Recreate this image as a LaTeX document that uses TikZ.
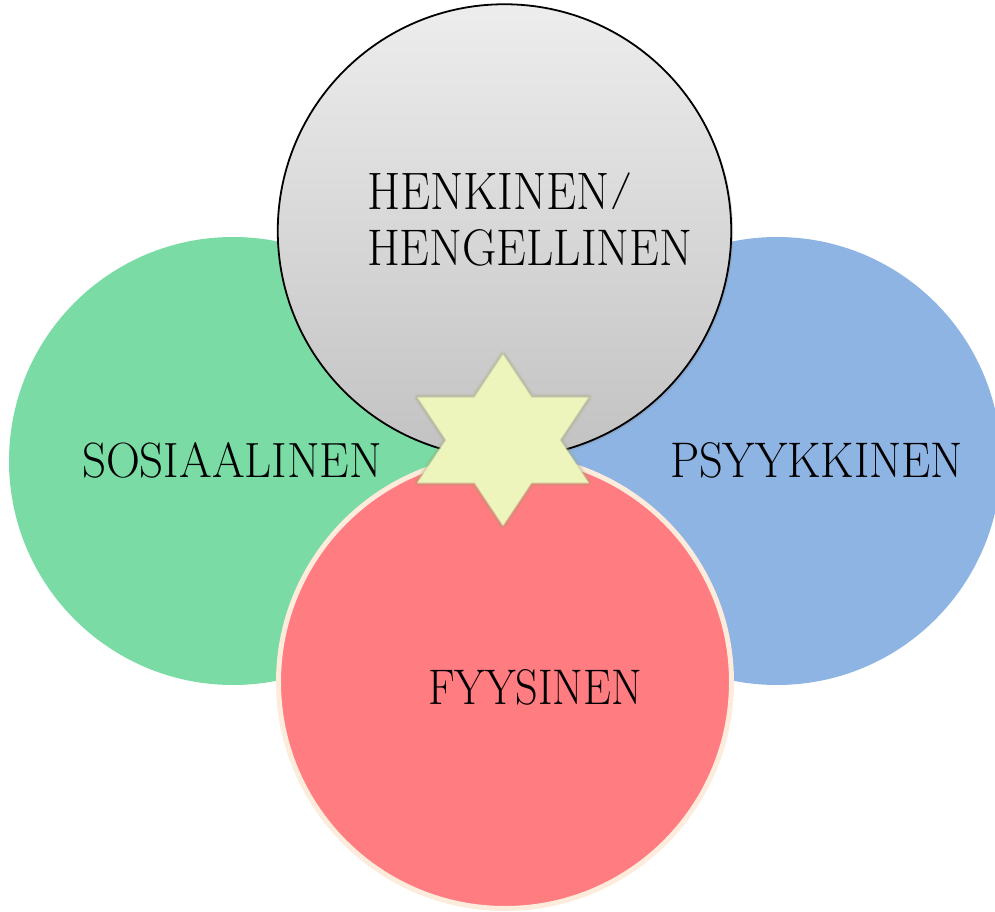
\documentclass[tikz,border=0pt]{standalone}
\usepackage{graphicx}
\usetikzlibrary{shadows}
\definecolor{cgreen}{HTML}{7ADCA4}
\definecolor{cblue}{HTML}{8EB4E3}
\definecolor{cred}{HTML}{FF7C80}
\definecolor{ccream}{HTML}{FDEBDC}
\definecolor{cstar}{HTML}{EEF5BC}
\definecolor{cstaredge}{HTML}{9EA270}
\definecolor{gtop}{HTML}{EDEDED}
\definecolor{gbot}{HTML}{C2C2C2}
\newcommand{\lblfont}{\fontsize{52}{52}\selectfont}
\newcommand{\capslash}{\raisebox{0pt}[0pt][0pt]{\scalebox{1}[0.7]{\raisebox{0.25em}{/}}}}
\tikzset{
  disc/.style={circle, inner sep=0pt, outer sep=0pt},
  lbl/.style={anchor=base west, inner sep=0pt, outer sep=0pt, text=black}
}
\begin{document}
\begin{tikzpicture}[x=1pt, y=-1pt]
\useasboundingbox (0,0) rectangle (995,912);
\begin{scope}
\clip (0,0) rectangle (995,912);
% side circles
\node[disc, fill=cgreen, minimum size=448pt] (green) at (233,461) {};
\node[disc, fill=cblue, minimum size=448pt] (blue) at (777,461) {};
% top circle
\node[disc, draw=black, line width=1.8pt, top color=gtop, bottom color=gbot,
      minimum size=453.5pt,
      drop shadow={opacity=0.25, shadow xshift=2pt, shadow yshift=-2pt}] (gray) at (504.5,231) {};
% bottom circle
\node[disc, fill=cred, draw=ccream, line width=5pt, minimum size=453pt] (red) at (505,682) {};
% star
\begin{scope}[shift={(503,440)}, xscale=1.155]
  \def\starpath{(90:85) -- (60:49.07) -- (30:85) -- (0:49.07) -- (-30:85) -- (-60:49.07) -- (-90:85) -- (-120:49.07) -- (-150:85) -- (180:49.07) -- (150:85) -- (120:49.07) -- cycle}
  \draw[draw=cstaredge, line width=8pt, opacity=0.12, line join=round] \starpath;
  \draw[draw=cstaredge, line width=5pt, opacity=0.22, line join=round] \starpath;
  \draw[draw=cstaredge, line width=2.5pt, opacity=0.35, line join=round] \starpath;
  \fill[cstar] \starpath;
  \draw[draw=cstar, line width=2pt, opacity=0.5, line join=round] \starpath;
  \coordinate (star) at (0,0);
\end{scope}
\end{scope}
% labels
\node[lbl] (t1) at (367,210) {\resizebox{265pt}{36pt}{\lblfont HENKINEN\capslash}};
\node[lbl] (t2) at (367,265) {\resizebox{325pt}{36pt}{\lblfont HENGELLINEN}};
\node[lbl] (t3) at (82,477) {\resizebox{300pt}{35pt}{\lblfont SOSIAALINEN}};
\node[lbl] (t4) at (670,477) {\resizebox{293pt}{35pt}{\lblfont PSYYKKINEN}};
\node[lbl] (t5) at (428,704) {\resizebox{214pt}{35pt}{\lblfont FYYSINEN}};
\end{tikzpicture}
\end{document}
